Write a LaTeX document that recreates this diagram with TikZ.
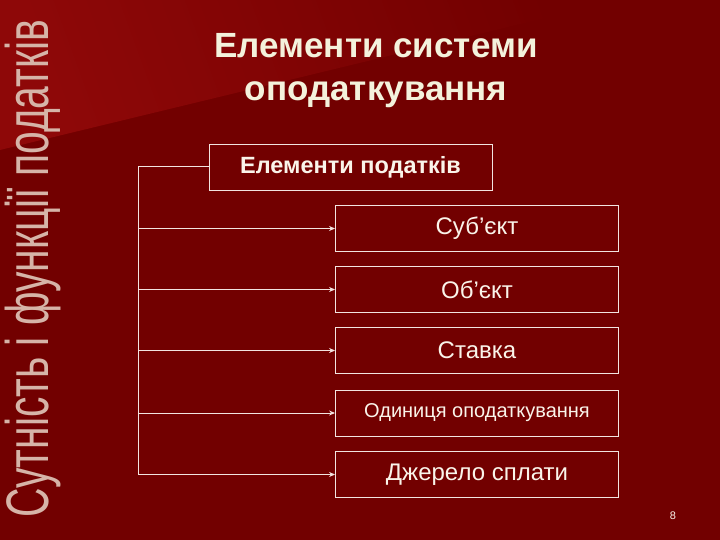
\documentclass[tikz,border=0pt]{standalone}
\usepackage{fontspec}
\setmainfont{Liberation Sans}
\usetikzlibrary{arrows.meta}
\definecolor{bgred}{HTML}{720000}
\definecolor{hired}{HTML}{8E0808}
\definecolor{linec}{HTML}{F2E4E0}
\definecolor{txtc}{HTML}{FAF4EA}
\definecolor{titc}{HTML}{F4F2DC}
\definecolor{sidec}{HTML}{D6B4A8}
\tikzset{
  box/.style={draw=linec, line width=0.9pt, minimum width=283pt, minimum height=46pt, inner sep=0pt, text=txtc, font=\fontsize{24}{28}\selectfont},
  conn/.style={draw=linec, line width=1pt},
  arr/.style={conn, -{Stealth[length=6pt,width=5pt]}}
}
\begin{document}
\begin{tikzpicture}[x=1pt,y=-1pt]
\useasboundingbox (0,0) rectangle (720,540);
\fill[bgred] (0,0) rectangle (720,540);
\shade[left color=hired, right color=bgred, shading angle=110] (0,0) -- (620,0) -- (0,150) -- cycle;
% side title
\node[text=sidec, rotate=90, inner sep=0pt, anchor=center] (side) at (33,269)
  {\scalebox{0.68}[1]{\fontsize{60}{60}\selectfont Сутність і функції податків}};
% title
\node[text=titc, font=\bfseries\fontsize{35}{43}\selectfont, align=center] (title) at (376,71)
  {Елементи системи\\оподаткування};
% boxes
\node[box, font=\bfseries\fontsize{23.5}{26}\selectfont] (top) at (350.5,167) {Елементи податків};
\node[box] (b1) at (477,228.5) {Суб’єкт};
\node[box] (b2) at (477,289.5) {Об’єкт};
\node[box] (b3) at (477,350.5) {Ставка};
\node[box, font=\fontsize{20}{24}\selectfont] (b4) at (477,413) {Одиниця оподаткування};
\node[box, font=\fontsize{24}{28}\selectfont] (b5) at (477,474.5) {Джерело сплати};
% connectors
\coordinate (c0) at (138,167);
\coordinate (c5) at (138,474.5);
\draw[conn] (top.west) -- (c0) -- (c5);
\foreach \b in {b1,b2,b3,b4,b5}
  \draw[arr] (c0 |- \b.west) -- (\b.west);
% page number
\node[text=txtc, font=\fontsize{11}{12}\selectfont] (pg) at (673,516) {8};
\end{tikzpicture}
\end{document}
